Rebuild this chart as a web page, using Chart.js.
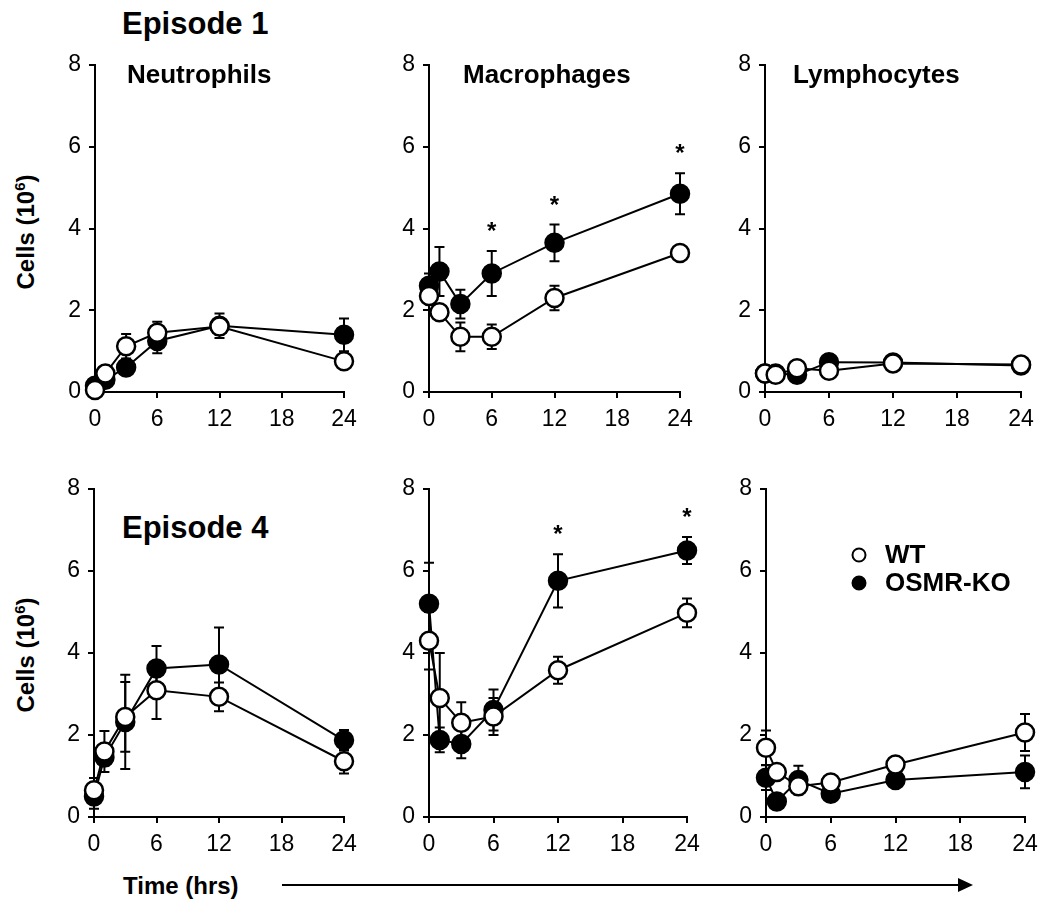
<!DOCTYPE html>
<html>
<head>
<meta charset="utf-8">
<script src="https://cdn.jsdelivr.net/npm/chart.js@4.4.1/dist/chart.umd.min.js"></script>
<style>
  body { margin: 0; background: #fff; font-family: "Liberation Sans", Arial, sans-serif; }
  #page { position: relative; width: 1046px; height: 909px; overflow: hidden; }
  .panel { position: absolute; }
  .txt { position: absolute; font-weight: bold; color: #000; white-space: nowrap; line-height: 1; }
  .ylab { position: absolute; font-weight: bold; font-size: 24px; line-height: 1; transform: translate(-50%, -50%) rotate(-90deg); white-space: nowrap; }
  .ylab sup { font-size: 15px; }
</style>
</head>
<body>
<div id="page">
  <div class="txt" style="left:122px;top:8px;font-size:31px;">Episode 1</div>
  <div class="txt" style="left:122px;top:512px;font-size:31px;">Episode 4</div>
  <div class="ylab" style="left:25px;top:232px;">Cells (10<sup>6</sup>)</div>
  <div class="ylab" style="left:25px;top:655px;">Cells (10<sup>6</sup>)</div>
  <div class="txt" style="left:123px;top:874px;font-size:24px;">Time (hrs)</div>
  <svg style="position:absolute;left:0;top:0" width="1046" height="909">
    <line x1="282" y1="885" x2="960" y2="885" stroke="#000" stroke-width="2"/>
    <polygon points="958,878 973,885 958,892" fill="#000"/>
  </svg>
  <canvas id="p1" class="panel"></canvas>
  <canvas id="p2" class="panel"></canvas>
  <canvas id="p3" class="panel"></canvas>
  <canvas id="p4" class="panel"></canvas>
  <canvas id="p5" class="panel"></canvas>
  <canvas id="p6" class="panel"></canvas>
</div>
<script>
// sampling times (hrs)
const hours = [0, 1, 3, 6, 12, 24];
const xTicks = [0, 6, 12, 18, 24];
const yTicks = [0, 2, 4, 6, 8];

// Episode 1
const neutro1WT = [0.05, 0.45, 1.12, 1.45, 1.6, 0.75];
const neutro1WTErr = [0.05, 0.1, 0.3, 0.27, 0.2, 0.1];
const neutro1KO = [0.15, 0.3, 0.6, 1.25, 1.62, 1.4];
const neutro1KOErr = [0.05, 0.1, 0.1, 0.3, 0.3, 0.4];

const macro1WT = [2.35, 1.95, 1.35, 1.35, 2.3, 3.4];
const macro1WTErr = [0.2, 0.15, 0.35, 0.3, 0.3, 0.1];
const macro1KO = [2.6, 2.95, 2.15, 2.9, 3.65, 4.85];
const macro1KOErr = [0.3, 0.6, 0.35, 0.55, 0.45, 0.5];
const macro1Stars = [6, 12, 24];

const lympho1WT = [0.45, 0.42, 0.58, 0.52, 0.7, 0.67];
const lympho1WTErr = [0.05, 0.05, 0.1, 0.05, 0.1, 0.05];
const lympho1KO = [0.45, 0.45, 0.42, 0.73, 0.72, 0.65];
const lympho1KOErr = [0.05, 0.05, 0.1, 0.1, 0.1, 0.05];

// Episode 4
const neutro4WT = [0.65, 1.6, 2.44, 3.09, 2.93, 1.36];
const neutro4WTErr = [0.3, 0.5, 0.85, 0.7, 0.35, 0.3];
const neutro4KO = [0.5, 1.45, 2.32, 3.62, 3.72, 1.87];
const neutro4KOErr = [0.3, 0.2, 1.15, 0.55, 0.9, 0.25];

const macro4WT = [4.3, 2.9, 2.3, 2.45, 3.58, 4.98];
const macro4WTErr = [0.7, 1.1, 0.5, 0.45, 0.33, 0.35];
const macro4KO = [5.2, 1.88, 1.78, 2.61, 5.76, 6.5];
const macro4KOErr = [1.0, 0.3, 0.35, 0.5, 0.65, 0.33];
const macro4Stars = [12, 24];

const lympho4WT = [1.69, 1.1, 0.75, 0.84, 1.28, 2.06];
const lympho4WTErr = [0.42, 0.1, 0.1, 0.1, 0.1, 0.45];
const lympho4KO = [0.96, 0.38, 0.9, 0.57, 0.9, 1.1];
const lympho4KOErr = [0.3, 0.1, 0.35, 0.1, 0.15, 0.4];

const FONT = '"Liberation Sans", Arial, sans-serif';
const Y_W = 45, X_H = 46, PAD_T = 14, PAD_R = 20;

// error bars under the markers
const errorBars = {
    id: 'errorBars',
    beforeDatasetsDraw(chart) {
        const ctx = chart.ctx;
        const xs = chart.scales.x, ys = chart.scales.y;
        ctx.save();
        ctx.strokeStyle = '#000';
        ctx.lineWidth = 2;
        chart.data.datasets.forEach(ds => {
            ds.data.forEach((p, i) => {
                const e = ds.errors[i];
                if (!e) return;
                const x = xs.getPixelForValue(p.x);
                const y1 = ys.getPixelForValue(p.y - e);
                const y2 = ys.getPixelForValue(p.y + e);
                ctx.beginPath();
                ctx.moveTo(x, y1); ctx.lineTo(x, y2);
                ctx.moveTo(x - 5, y1); ctx.lineTo(x + 5, y1);
                ctx.moveTo(x - 5, y2); ctx.lineTo(x + 5, y2);
                ctx.stroke();
            });
        });
        ctx.restore();
    }
};

// panel name, significance stars, legend
const decorations = {
    id: 'decorations',
    afterDraw(chart, args, opts) {
        const ctx = chart.ctx;
        const a = chart.chartArea;
        ctx.save();
        ctx.fillStyle = '#000';
        if (opts.title) {
            ctx.font = 'bold 26px ' + FONT;
            ctx.textBaseline = 'middle';
            ctx.fillText(opts.title, a.left + opts.titleX, a.top + 11);
        }
        if (opts.stars) {
            const ko = chart.data.datasets[1];
            ctx.font = 'bold 24px ' + FONT;
            ctx.textAlign = 'center';
            ctx.textBaseline = 'middle';
            opts.stars.forEach(h => {
                const i = ko.data.findIndex(p => p.x === h);
                const v = ko.data[i].y + ko.errors[i] + 0.6;
                ctx.fillText('*', chart.scales.x.getPixelForValue(h), chart.scales.y.getPixelForValue(v) + 6);
            });
        }
        if (opts.legend) {
            ctx.font = 'bold 26px ' + FONT;
            ctx.textAlign = 'left';
            ctx.textBaseline = 'middle';
            chart.data.datasets.forEach((ds, k) => {
                const cx = a.left + 93, cy = a.top + 66 + k * 28;
                ctx.beginPath();
                ctx.arc(cx, cy, 6.5, 0, Math.PI * 2);
                ctx.fillStyle = ds.pointBackgroundColor;
                ctx.fill();
                ctx.lineWidth = 2;
                ctx.strokeStyle = '#000';
                ctx.stroke();
                ctx.fillStyle = '#000';
                ctx.fillText(ds.label, cx + 26, cy + 1);
            });
        }
        ctx.restore();
    }
};

function series(label, vals, errs, fill) {
    return {
        label: label,
        data: hours.map((h, i) => ({ x: h, y: vals[i] })),
        errors: errs,
        borderColor: '#000',
        borderWidth: 2,
        pointRadius: 9,
        pointHoverRadius: 9,
        pointBorderWidth: 2.5,
        pointBorderColor: '#000',
        pointBackgroundColor: fill,
        tension: 0,
        clip: false
    };
}

function makePanel(id, area, title, titleX, wt, wtErr, ko, koErr, stars, legend) {
    const cv = document.getElementById(id);
    const w = area.right - area.left + Y_W + PAD_R;
    const h = area.bottom - area.top + PAD_T + X_H;
    cv.style.left = (area.left - Y_W) + 'px';
    cv.style.top = (area.top - PAD_T) + 'px';
    cv.style.width = w + 'px';
    cv.style.height = h + 'px';
    cv.width = w; cv.height = h;
    const axisBase = {
        border: { display: true, color: '#000', width: 2 },
        grid: { display: true, drawOnChartArea: false, drawTicks: true, tickLength: 6, color: '#000', lineWidth: 2 },
        ticks: { color: '#000', font: { family: FONT, size: 23 }, padding: 8 }
    };
    return new Chart(cv.getContext('2d'), {
        type: 'line',
        data: {
            datasets: [
                series('WT', wt, wtErr, '#fff'),
                series('OSMR-KO', ko, koErr, '#000')
            ]
        },
        options: {
            responsive: false,
            animation: false,
            layout: { padding: { top: PAD_T, right: PAD_R, left: 0, bottom: 0 } },
            scales: {
                x: Object.assign({}, axisBase, {
                    type: 'linear', min: 0, max: 24,
                    afterBuildTicks: s => { s.ticks = xTicks.map(v => ({ value: v })); },
                    afterFit: s => { s.height = X_H; s.paddingLeft = 0; s.paddingRight = 0; }
                }),
                y: Object.assign({}, axisBase, {
                    type: 'linear', min: 0, max: 8,
                    afterBuildTicks: s => { s.ticks = yTicks.map(v => ({ value: v })); },
                    afterFit: s => { s.width = Y_W; s.paddingTop = 0; s.paddingBottom = 0; }
                })
            },
            plugins: {
                legend: { display: false },
                tooltip: { enabled: false },
                decorations: { title: title, titleX: titleX, stars: stars, legend: legend }
            }
        },
        plugins: [errorBars, decorations]
    });
}

makePanel('p1', { left: 95, right: 344, top: 65, bottom: 392 }, 'Neutrophils', 32,
    neutro1WT, neutro1WTErr, neutro1KO, neutro1KOErr, null, false);
makePanel('p2', { left: 429, right: 680, top: 65, bottom: 392 }, 'Macrophages', 34,
    macro1WT, macro1WTErr, macro1KO, macro1KOErr, macro1Stars, false);
makePanel('p3', { left: 765, right: 1021, top: 65, bottom: 392 }, 'Lymphocytes', 28,
    lympho1WT, lympho1WTErr, lympho1KO, lympho1KOErr, null, false);
makePanel('p4', { left: 94, right: 344, top: 489, bottom: 817 }, null, 0,
    neutro4WT, neutro4WTErr, neutro4KO, neutro4KOErr, null, false);
makePanel('p5', { left: 429, right: 687, top: 489, bottom: 817 }, null, 0,
    macro4WT, macro4WTErr, macro4KO, macro4KOErr, macro4Stars, false);
makePanel('p6', { left: 766, right: 1025, top: 489, bottom: 817 }, null, 0,
    lympho4WT, lympho4WTErr, lympho4KO, lympho4KOErr, null, true);
</script>
</body>
</html>
